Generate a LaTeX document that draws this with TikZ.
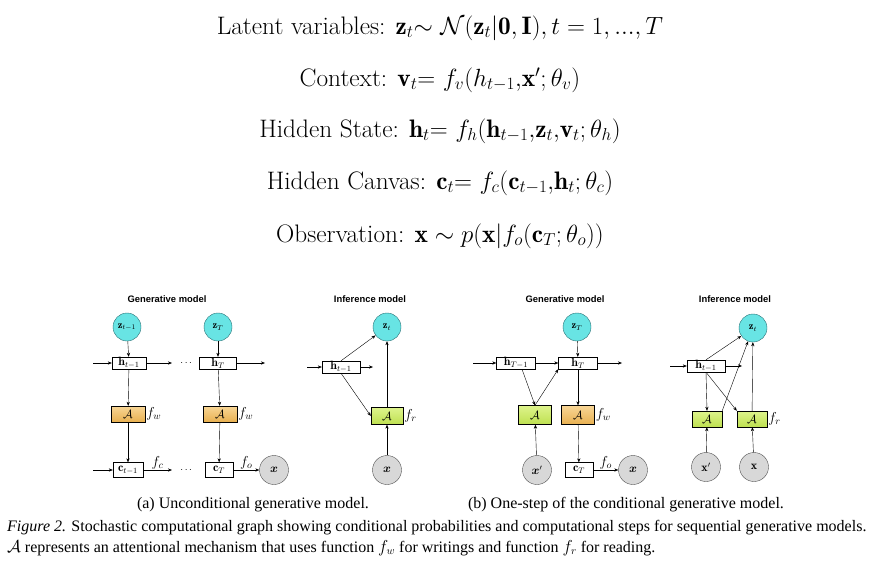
\documentclass[tikz,border=0pt]{standalone}
\usepackage{amsmath,amssymb,bm}
\usepackage{fontspec}
\newfontfamily\capfont{Liberation Serif}
\newfontfamily\titlefont{Liberation Sans}
\usepackage{tikz}
\usetikzlibrary{arrows.meta}

\definecolor{latentfill}{RGB}{104,228,228}
\definecolor{latentdraw}{RGB}{40,110,115}
\definecolor{obsfill}{RGB}{216,216,216}
\definecolor{obsdraw}{RGB}{80,80,80}
\definecolor{writetop}{RGB}{248,214,150}
\definecolor{writebot}{RGB}{232,176,80}
\definecolor{readtop}{RGB}{222,244,140}
\definecolor{readbot}{RGB}{190,224,80}

\tikzset{
  >={Stealth[length=4pt,width=3.2pt]},
  every node/.style={inner sep=1pt},
  eqn/.style={font=\fontsize{25.3}{30}\selectfont},
  paneltitle/.style={font=\titlefont\bfseries\fontsize{9.4}{10}\selectfont},
  latent/.style={circle, draw=latentdraw, fill=latentfill, minimum size=28pt, inner sep=0pt, font=\fontsize{10.5}{11}\selectfont},
  obs/.style={circle, draw=obsdraw, fill=obsfill, minimum size=29pt, inner sep=0pt, font=\fontsize{12}{13}\selectfont},
  statebox/.style={draw, fill=white, minimum width=34pt, minimum height=12pt, inner sep=0.5pt, font=\fontsize{12}{13}\selectfont},
  writebox/.style={draw, top color=writetop, bottom color=writebot, minimum width=34pt, minimum height=16pt, font=\fontsize{13}{14}\selectfont},
  readbox/.style={draw, top color=readtop, bottom color=readbot, minimum width=32pt, minimum height=17pt, font=\fontsize{13}{14}\selectfont},
  fnlabel/.style={font=\fontsize{14}{15}\selectfont},
  caption/.style={font=\capfont\fontsize{16}{18}\selectfont}
}

\begin{document}
\begin{tikzpicture}[x=1pt, y=-1pt]

\useasboundingbox (0,0) rectangle (878,565);

% Equations
\node[eqn] (eqlatent) at (440,28) {Latent variables: $\mathbf{z}_t{\sim}\ \mathcal{N}(\mathbf{z}_t|\mathbf{0},\mathbf{I}), t=1,...,T$};
\node[eqn] (eqcontext) at (440,80) {Context: $\mathbf{v}_t{=}\ f_v(h_{t-1}{,}\mathbf{x}';\theta_v)$};
\node[eqn] (eqhidden) at (440,131) {Hidden State: $\mathbf{h}_t{=}\ f_h(\mathbf{h}_{t-1}{,}\mathbf{z}_t{,}\mathbf{v}_t;\theta_h)$};
\node[eqn] (eqcanvas) at (440,183) {Hidden Canvas: $\mathbf{c}_t{=}\ f_c(\mathbf{c}_{t-1}{,}\mathbf{h}_t;\theta_c)$};
\node[eqn] (eqobs) at (440,236) {Observation: $\mathbf{x}\sim p(\mathbf{x}|f_o(\mathbf{c}_T;\theta_o))$};

% (a) Generative model
\node[paneltitle] (titleA) at (167,299) {Generative model};
\node[latent] (zA) at (127,327) {$\mathbf{z}_{t-1}$};
\node[latent] (zTA) at (218,327) {$\mathbf{z}_T$};
\node[statebox] (hA) at (129,363) {$\mathbf{h}_{t-1}$};
\node[statebox, minimum width=37pt] (hTA) at (218,363) {$\mathbf{h}_T$};
\node (hdotsA) at (187,363) {$\cdots$};
\coordinate (hinA) at (93,363);
\coordinate (houtA) at (172,363);
\coordinate (hToutA) at (265,363);
\node[writebox] (wA) at (128,414) {$\mathcal{A}$};
\node[fnlabel, anchor=west] (fwA) at (wA.east) {$f_w$};
\node[writebox] (wTA) at (220,414) {$\mathcal{A}$};
\node[fnlabel, anchor=west] (fwTA) at (wTA.east) {$f_w$};
\node[statebox, minimum width=30pt, minimum height=15pt] (cA) at (128,470) {$\mathbf{c}_{t-1}$};
\node[statebox, minimum width=28pt, minimum height=15pt] (cTA) at (219,470) {$\mathbf{c}_T$};
\node (cdotsA) at (187,470) {$\cdots$};
\coordinate (cinA) at (93,470);
\coordinate (coutA) at (172,470);
\node[obs] (xA) at (274,470) {$\bm{x}$};

\draw[->] (hinA) -- (hA);
\draw[->] (hA) -- (houtA);
\draw[->] (hTA) -- (hToutA);
\draw[->] (zA) -- (hA);
\draw[->] (zTA) -- (hTA);
\draw[->] (hA) -- (wA);
\draw[->] (hTA) -- (wTA);
\draw[->] (wA) -- (cA);
\draw[->] (wTA) -- (cTA);
\draw[->] (cinA) -- (cA);
\draw[->] (cA) -- node[fnlabel, above] {$f_c$} (coutA);
\draw[->] (cTA) -- node[fnlabel, above] {$f_o$} (xA);

% (a) Inference model
\node[paneltitle] (titleB) at (370,299) {Inference model};
\node[latent] (zB) at (387,327) {$\mathbf{z}_t$};
\node[statebox, minimum width=38pt] (hB) at (341,367) {$\mathbf{h}_{t-1}$};
\coordinate (hinB) at (307,367);
\coordinate (houtB) at (373,367);
\node[readbox] (rB) at (387,416) {$\mathcal{A}$};
\node[fnlabel, anchor=west] (frB) at (rB.east) {$f_r$};
\node[obs] (xB) at (387,470) {$\bm{x}$};

\draw[->] (hinB) -- (hB);
\draw[->] (hB) -- (houtB);
\draw[->] (hB.north) -- (zB);
\draw[->] (hB.south) -- (rB.west);
\draw[->] (rB) -- (zB);
\draw[->] (xB) -- (rB);

% (b) Generative model
\node[paneltitle] (titleC) at (565,299) {Generative model};
\node[latent] (zC) at (577,327) {$\mathbf{z}_T$};
\node[statebox, minimum width=39pt] (hC) at (516,363) {$\mathbf{h}_{T-1}$};
\node[statebox, minimum width=39pt] (hTC) at (578,363) {$\mathbf{h}_T$};
\coordinate (hinC) at (473,363);
\coordinate (houtC) at (622,363);
\node[readbox, minimum width=33pt, minimum height=19pt] (rC) at (535,415) {$\mathcal{A}$};
\node[writebox, minimum width=33pt, minimum height=19pt] (wC) at (578,415) {$\mathcal{A}$};
\node[fnlabel, anchor=west] (fwC) at (wC.east) {$f_w$};
\node[obs] (xpC) at (537,470) {$\bm{x}'$};
\node[statebox, minimum width=28pt, minimum height=15pt] (cC) at (579,470) {$\mathbf{c}_T$};
\node[obs] (xC) at (633,470) {$\bm{x}$};

\draw[->] (hinC) -- (hC);
\draw[->] (hC) -- (hTC);
\draw[->] (hTC) -- (houtC);
\draw[->] (zC) -- (hTC);
\draw[->] ([xshift=6pt]hC.south) -- (rC.north);
\draw[->] (rC.north) -- (hTC.south west);
\draw[->] (xpC) -- (rC);
\draw[->] (hTC) -- (wC);
\draw[->] (wC) -- (cC);
\draw[->] (cC) -- node[fnlabel, above] {$f_o$} (xC);

% (b) Inference model
\node[paneltitle] (titleD) at (735,299) {Inference model};
\node[latent] (zD) at (753,328) {$\mathbf{z}_t$};
\node[statebox, minimum width=38pt] (hD) at (706,366) {$\mathbf{h}_{t-1}$};
\coordinate (hinD) at (670,366);
\coordinate (houtD) at (742,366);
\node[readbox, minimum width=30pt, minimum height=16pt] (rD) at (707,419) {$\mathcal{A}$};
\node[readbox, minimum width=30pt, minimum height=16pt] (rTD) at (752,419) {$\mathcal{A}$};
\node[fnlabel, anchor=west] (frD) at (rTD.east) {$f_r$};
\node[obs] (xpD) at (706,467) {$\mathbf{x}'$};
\node[obs] (xD) at (754,467) {$\mathbf{x}$};

\draw[->] (hinD) -- (hD);
\draw[->] (hD) -- (houtD);
\draw[->] (hD.north) -- (zD);
\draw[->] (hD.south) -- (rD.north);
\draw[->] (hD.south) -- (rTD.north west);
\draw[->] (rD.north east) -- (zD);
\draw[->] (rTD) -- (zD);
\draw[->] (xpD) -- (rD);
\draw[->] (xD) -- (rTD);

% Captions
\node[caption] (capA) at (253,505) {(a) Unconditional generative model.};
\node[caption] (capB) at (626,505) {(b) One-step of the conditional generative model.};
\node[caption, anchor=west] (capfig) at (6,528) {\textit{Figure 2.} Stochastic computational graph showing conditional probabilities and computational steps for sequential generative models.};
\node[caption, anchor=west] (capfigb) at (6,548) {$\mathcal{A}$ represents an attentional mechanism that uses function $f_w$ for writings and function $f_r$ for reading.};

\end{tikzpicture}
\end{document}
